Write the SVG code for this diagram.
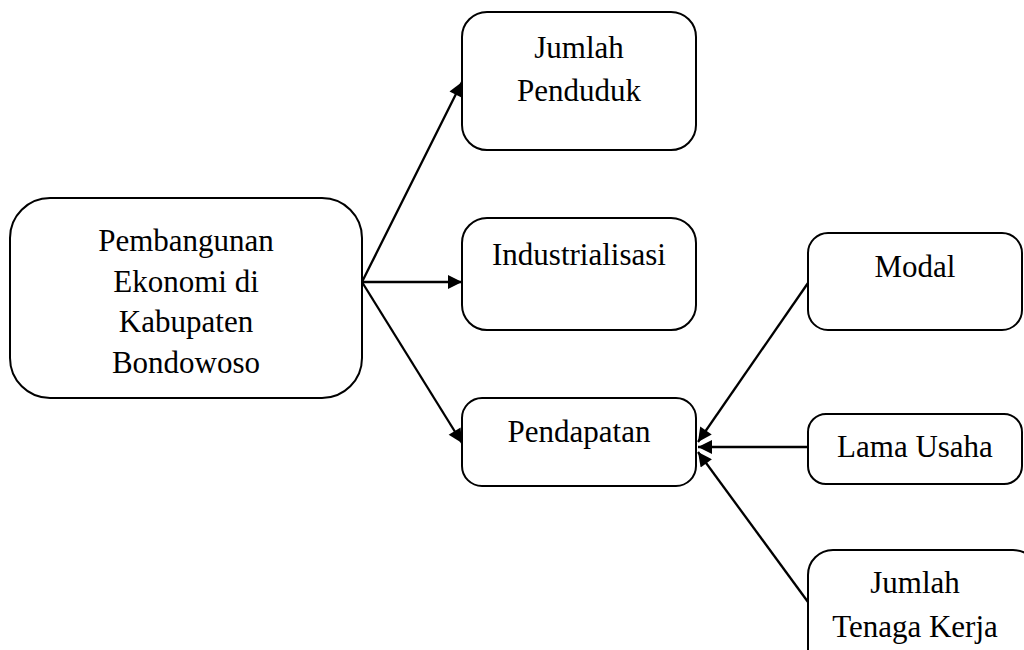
<svg xmlns="http://www.w3.org/2000/svg" width="1024" height="650" viewBox="0 0 1024 650">
<defs>
<marker id="ah" viewBox="0 0 10 10" refX="10" refY="5" markerWidth="16" markerHeight="14" markerUnits="userSpaceOnUse" orient="auto">
<path d="M0,0 L10,5 L0,10 z" fill="#000"/>
</marker>
</defs>
<style>
.box{fill:#fff;stroke:#000;stroke-width:2}
.t{font-family:"Liberation Serif","Times New Roman",serif;font-size:31px;fill:#000;text-anchor:middle}
.c{stroke:#000;stroke-width:2.3;fill:none;marker-end:url(#ah)}
</style>
<rect width="1024" height="650" fill="#fff"/>
<g id="connectors">
<line class="c" x1="362" y1="282" x2="462" y2="82"/>
<line class="c" x1="362" y1="282" x2="462" y2="282"/>
<line class="c" x1="362" y1="282" x2="462" y2="443"/>
<line class="c" x1="808" y1="283" x2="698" y2="442"/>
<line class="c" x1="808" y1="447" x2="698" y2="447"/>
<line class="c" x1="808" y1="602" x2="698" y2="452"/>
</g>
<g id="n-pembangunan">
<rect class="box" x="10" y="198" width="352" height="200" rx="40"/>
<text class="t" x="186" y="251">Pembangunan</text>
<text class="t" x="186" y="292">Ekonomi di</text>
<text class="t" x="186" y="332">Kabupaten</text>
<text class="t" x="186" y="373">Bondowoso</text>
</g>
<g id="n-jumlah-penduduk">
<rect class="box" x="462" y="12" width="234" height="138" rx="25"/>
<text class="t" x="579" y="58">Jumlah</text>
<text class="t" x="579" y="101">Penduduk</text>
</g>
<g id="n-industrialisasi">
<rect class="box" x="462" y="218" width="234" height="112" rx="25"/>
<text class="t" x="579" y="265">Industrialisasi</text>
</g>
<g id="n-pendapatan">
<rect class="box" x="462" y="398" width="234" height="88" rx="20"/>
<text class="t" x="579" y="442">Pendapatan</text>
</g>
<g id="n-modal">
<rect class="box" x="808" y="233" width="214" height="97" rx="20"/>
<text class="t" x="915" y="277">Modal</text>
</g>
<g id="n-lama-usaha">
<rect class="box" x="808" y="414" width="214" height="70" rx="18"/>
<text class="t" x="915" y="457">Lama Usaha</text>
</g>
<g id="n-tenaga-kerja">
<rect class="box" x="808" y="550" width="230" height="130" rx="25"/>
<text class="t" x="915" y="593">Jumlah</text>
<text class="t" x="915" y="637">Tenaga Kerja</text>
</g>
</svg>
